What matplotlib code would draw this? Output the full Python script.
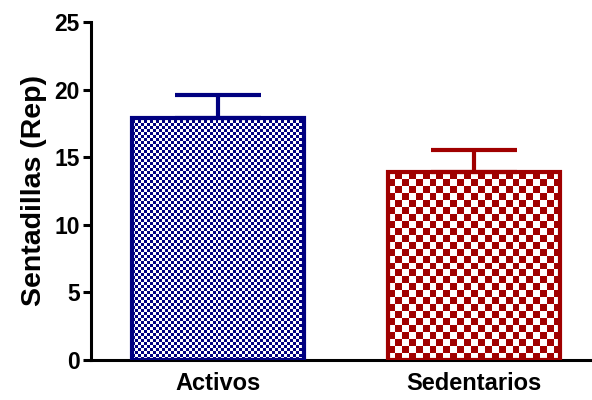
import numpy as np
import matplotlib.pyplot as plt

groups = ['Activos', 'Sedentarios']
means = [17.9, 13.9]
sds = [1.7, 1.6]
colors = ['#000080', '#A00000']
cell_px = [3, 7]  # checker cell size in pixels
ylabel = 'Sentadillas (Rep)'
yticks = [0, 5, 10, 15, 20, 25]

plt.rcParams['font.family'] = ['Liberation Sans', 'DejaVu Sans']
plt.rcParams['font.weight'] = 'bold'

fig = plt.figure(figsize=(5.92, 4), dpi=100)
ax = fig.add_axes([0.1537, 0.1, 0.843, 0.845])

x = np.arange(len(groups))
width = 0.675
ax.set_xlim(-0.496, 1.453)
ax.set_ylim(0, 25)

bars = ax.bar(x, means, width=width, facecolor='none', edgecolor=colors,
              linewidth=3, zorder=3)

# checkerboard fill clipped to each bar
fig.canvas.draw()
for bar, c, cp in zip(bars, colors, cell_px):
    x0, y0 = bar.get_x(), bar.get_y()
    w, h = bar.get_width(), bar.get_height()
    p0 = ax.transData.transform((x0, y0))
    p1 = ax.transData.transform((x0 + w, y0 + h))
    nx = max(1, int(round((p1[0] - p0[0]) / cp)))
    ny = max(1, int(round((p1[1] - p0[1]) / cp)))
    ii, jj = np.indices((ny, nx))
    board = (ii + jj) % 2
    cmap = plt.matplotlib.colors.ListedColormap(['white', c])
    im = ax.imshow(board, extent=(x0, x0 + w, y0, y0 + h), cmap=cmap,
                   interpolation='nearest', aspect='auto', origin='lower',
                   zorder=1)
    im.set_clip_path(bar)

for xi, m, s, c in zip(x, means, sds, colors):
    ax.errorbar(xi, m, yerr=[[0], [s]], fmt='none', ecolor=c,
                elinewidth=3, capsize=31, capthick=3, zorder=2)

ax.set_xticks(x)
ax.set_xticklabels(groups, fontsize=17, fontweight='bold')
ax.set_yticks(yticks)
ax.set_yticklabels([str(t) for t in yticks], fontsize=16.5, fontweight='bold')
ax.set_ylabel(ylabel, fontsize=20.5, fontweight='bold', labelpad=5)

ax.spines['top'].set_visible(False)
ax.spines['right'].set_visible(False)
ax.spines['left'].set_linewidth(2.2)
ax.spines['bottom'].set_linewidth(2.2)
ax.tick_params(axis='y', direction='out', length=6, width=2.2, pad=2)
ax.tick_params(axis='x', length=0, pad=9)

fig.savefig('out.png', dpi=100)
